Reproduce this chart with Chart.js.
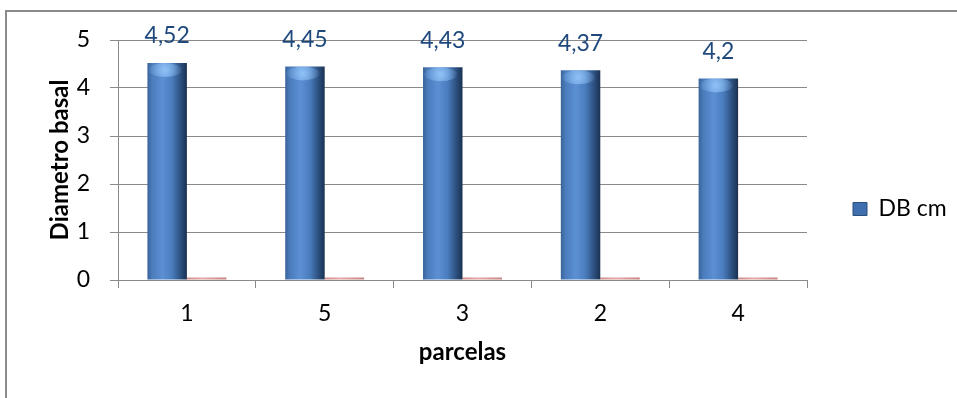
<!DOCTYPE html>
<html>
<head>
<meta charset="utf-8">
<script src="https://cdn.jsdelivr.net/npm/chart.js@4/dist/chart.umd.min.js"></script>
<style>
  html, body { margin: 0; padding: 0; background: #fff; overflow: hidden; }
  #frame { position: absolute; left: 5px; top: 10px; width: 1000px; height: 500px;
           border-top: 2px solid #8a8a8a; border-left: 2px solid #8a8a8a; }
  #c { position: absolute; left: 0; top: 0; }
</style>
</head>
<body>
<div id="frame"></div>
<canvas id="c" width="957" height="398"></canvas>
<script>
// Diámetro basal por parcela
const categories = ['1', '5', '3', '2', '4'];
const dbCm = [4.52, 4.45, 4.43, 4.37, 4.2];
const serie2 = [0.05, 0.05, 0.05, 0.05, 0.05];
const yTicks = [0, 1, 2, 3, 4, 5];

const FONT = 'Lato, "Open Sans", sans-serif';
const GRID = '#8a8a8a';
const CAT_PCT = 0.573;
const LEGEND_W = 150;
const LEGEND_BOX_X = 853;
const LEGEND_CY = 214;

function fmt(v) { return String(v).replace('.', ','); }

// horizontal shading across each bar, built from the x scale
function shaded(stops, side) {
  return (c) => {
    const chart = c.chart, xs = chart.scales.x;
    if (!xs || !chart.chartArea || c.dataIndex === undefined) return stops[2][1];
    const catW = xs.width / categories.length;
    const w = catW * CAT_PCT / 2;
    const center = xs.getPixelForValue(c.dataIndex);
    const x0 = side === 0 ? center - w : center;
    const g = chart.ctx.createLinearGradient(x0, 0, x0 + w, 0);
    stops.forEach(([p, col]) => g.addColorStop(p, col));
    return g;
  };
}

const blueStops = [[0, '#3a6499'], [0.12, '#4b7cbc'], [0.38, '#5b90d4'], [0.62, '#4a7dbe'], [0.85, '#2b4e7d'], [1, '#1b3150']];
const redStops = [[0, '#d08c8a'], [0.4, '#e3a9a7'], [1, '#c58280']];

const labelsPlugin = {
  id: 'valueLabels',
  afterDatasetsDraw(chart) {
    const ctx = chart.ctx;
    const meta = chart.getDatasetMeta(0);
    ctx.save();
    // bevelled top highlight
    meta.data.forEach((el) => {
      const g = ctx.createRadialGradient(el.x - 2, el.y + 7, 1, el.x - 2, el.y + 7, el.width * 0.45);
      g.addColorStop(0, 'rgba(150,200,250,0.85)');
      g.addColorStop(1, 'rgba(150,200,250,0)');
      ctx.fillStyle = g;
      ctx.beginPath();
      ctx.ellipse(el.x - 2, el.y + 7, el.width * 0.42, 7, 0, 0, Math.PI * 2);
      ctx.fill();
    });
    ctx.font = '23px ' + FONT;
    ctx.fillStyle = '#1f497d';
    ctx.textAlign = 'center';
    ctx.textBaseline = 'middle';
    meta.data.forEach((el, i) => {
      ctx.fillText(fmt(dbCm[i]), el.x, el.y - 27);
    });
    ctx.restore();
  }
};

const legendPlacement = {
  id: 'legendPlacement',
  beforeLayout(chart) {
    const lg = chart.legend;
    if (lg && !lg._fixedFit) {
      const fit = lg.fit.bind(lg);
      lg.fit = function () { fit(); this.width = LEGEND_W; };
      lg._fixedFit = true;
    }
  },
  afterLayout(chart) {
    const lg = chart.legend;
    if (!lg) return;
    const p = lg.options.labels.padding;
    const dx = LEGEND_BOX_X - (lg.left + p);
    lg.left += dx; lg.right += dx;
    const colH = (lg.columnSizes && lg.columnSizes[0]) ? lg.columnSizes[0].height : 22;
    const t0 = LEGEND_CY - colH / 2;
    lg.top = t0 - p;
    lg.bottom = t0 + colH;
  }
};

new Chart(document.getElementById('c'), {
  type: 'bar',
  data: {
    labels: categories,
    datasets: [
      { label: 'DB cm', data: dbCm, backgroundColor: shaded(blueStops, 0), borderWidth: 0 },
      { label: 'Serie2', data: serie2, backgroundColor: shaded(redStops, 1), borderWidth: 0 }
    ]
  },
  options: {
    responsive: false,
    devicePixelRatio: 1,
    animation: false,
    events: [],
    layout: { padding: { top: 40, left: 0, right: 0, bottom: 0 } },
    datasets: { bar: { categoryPercentage: CAT_PCT, barPercentage: 1 } },
    plugins: {
      tooltip: { enabled: false },
      legend: {
        position: 'right',
        labels: {
          padding: 10,
          boxWidth: 14,
          boxHeight: 13,
          color: '#000',
          font: { family: FONT, size: 23 },
          filter: (item) => item.datasetIndex === 0,
          generateLabels: (chart) => chart.data.datasets.map((d, i) => ({
            text: d.label, datasetIndex: i, fillStyle: '#3f6fae', strokeStyle: '#2a4d7d',
            lineWidth: 1, hidden: false
          }))
        }
      }
    },
    scales: {
      x: {
        grid: { offset: true, drawOnChartArea: false, tickLength: 8, color: GRID },
        border: { color: GRID },
        ticks: { color: '#000', font: { family: FONT, size: 23 }, padding: 12 },
        title: { display: true, text: 'parcelas', color: '#000',
                 font: { family: FONT, size: 24, weight: 'bold' }, padding: { top: 0, bottom: 31 } },
        afterFit: (s) => { s.height = 118; }
      },
      y: {
        min: 0, max: 5,
        afterBuildTicks: (s) => { s.ticks = yTicks.map((v) => ({ value: v })); },
        grid: { color: GRID, tickLength: 8 },
        border: { color: GRID },
        ticks: { color: '#000', font: { family: FONT, size: 23 }, padding: 20 },
        title: { display: true, text: 'Diametro basal', color: '#000',
                 font: { family: FONT, size: 24, weight: 'bold' }, padding: { top: 46, bottom: 0 } },
        afterFit: (s) => { s.width = 118; }
      }
    }
  },
  plugins: [labelsPlugin, legendPlacement]
});
</script>
</body>
</html>
